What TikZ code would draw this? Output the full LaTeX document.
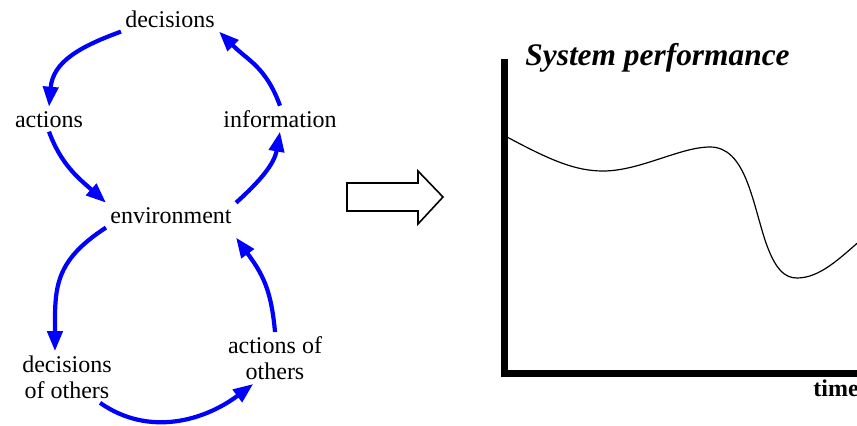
\documentclass[tikz,border=0pt]{standalone}
\usepackage{fontspec}
\setmainfont{Liberation Serif}
\usetikzlibrary{arrows.meta}
\definecolor{loopblue}{RGB}{0,0,255}
\definecolor{plotblack}{RGB}{0,0,0}

\begin{document}
\begin{tikzpicture}[x=0.5pt, y=0.5pt,
    looptext/.style={font=\fontsize{12}{13}\selectfont, inner sep=2pt},
    looparrow/.style={loopblue, line width=2.1pt, -{Triangle[length=10pt, width=7.5pt]}}]
    \useasboundingbox (0,0) rectangle (857,425);

    % Own decision loop
    \node[looptext, anchor=base] (dec) at (170,398) {decisions};
    \node[looptext, anchor=base] (act) at (49,298) {actions};
    \node[looptext, anchor=base] (inf) at (280,298) {information};
    \node[looptext, anchor=base] (env) at (171,202) {environment};

    % Loop of the others
    \node[looptext, align=center] (deco) at (67,48) {decisions\\of others};
    \node[looptext, align=center] (acto) at (275,67) {actions of\\others};

    % Arrows, upper loop
    \draw[looparrow] (dec.south west) to[out=200, in=85, looseness=1.1] (act.north);
    \draw[looparrow] (act.south) to[out=290, in=138] (env.north west);
    \draw[looparrow] (env.north east) to[out=42, in=260] (inf.south);
    \draw[looparrow] (inf.north) to[out=110, in=315, looseness=1.1] (dec.south east);

    % Arrows, lower loop
    \draw[looparrow] (env.south west) to[out=213, in=90, looseness=1.2] (deco.115);
    \draw[looparrow] (deco.322) to[out=-35, in=217] (acto.230);
    \draw[looparrow] (acto.north) to[out=95, in=306, looseness=1.1] ([yshift=-5pt]env.south east);

    % Hollow arrow
    \draw[plotblack, line width=0.8pt, line join=miter]
        (347,242) -- (418,242) -- (418,254) -- (443,228) -- (418,201) -- (418,214) -- (347,214) -- cycle;

    % Axes
    \draw[plotblack, line width=3.5pt, line join=miter] (504.5,366) |- (880,51.5);
    \node[font=\fontsize{15.7}{17}\selectfont\bfseries\itshape, anchor=base west, inner sep=0pt] (ylab) at (525,360) {System performance};
    \node[font=\fontsize{12}{13}\selectfont\bfseries, anchor=base west, inner sep=0pt] (xlab) at (813,29) {time};

    % Performance curve
    \draw[plotblack, line width=0.6pt]
        (507,288) .. controls (550,265) and (575,254) .. (603,254)
        .. controls (640,254) and (680,278) .. (710,278)
        .. controls (745,278) and (752,225) .. (765,185)
        .. controls (775,155) and (785,147) .. (797,147)
        .. controls (820,147) and (840,167) .. (862,186);
\end{tikzpicture}
\end{document}
